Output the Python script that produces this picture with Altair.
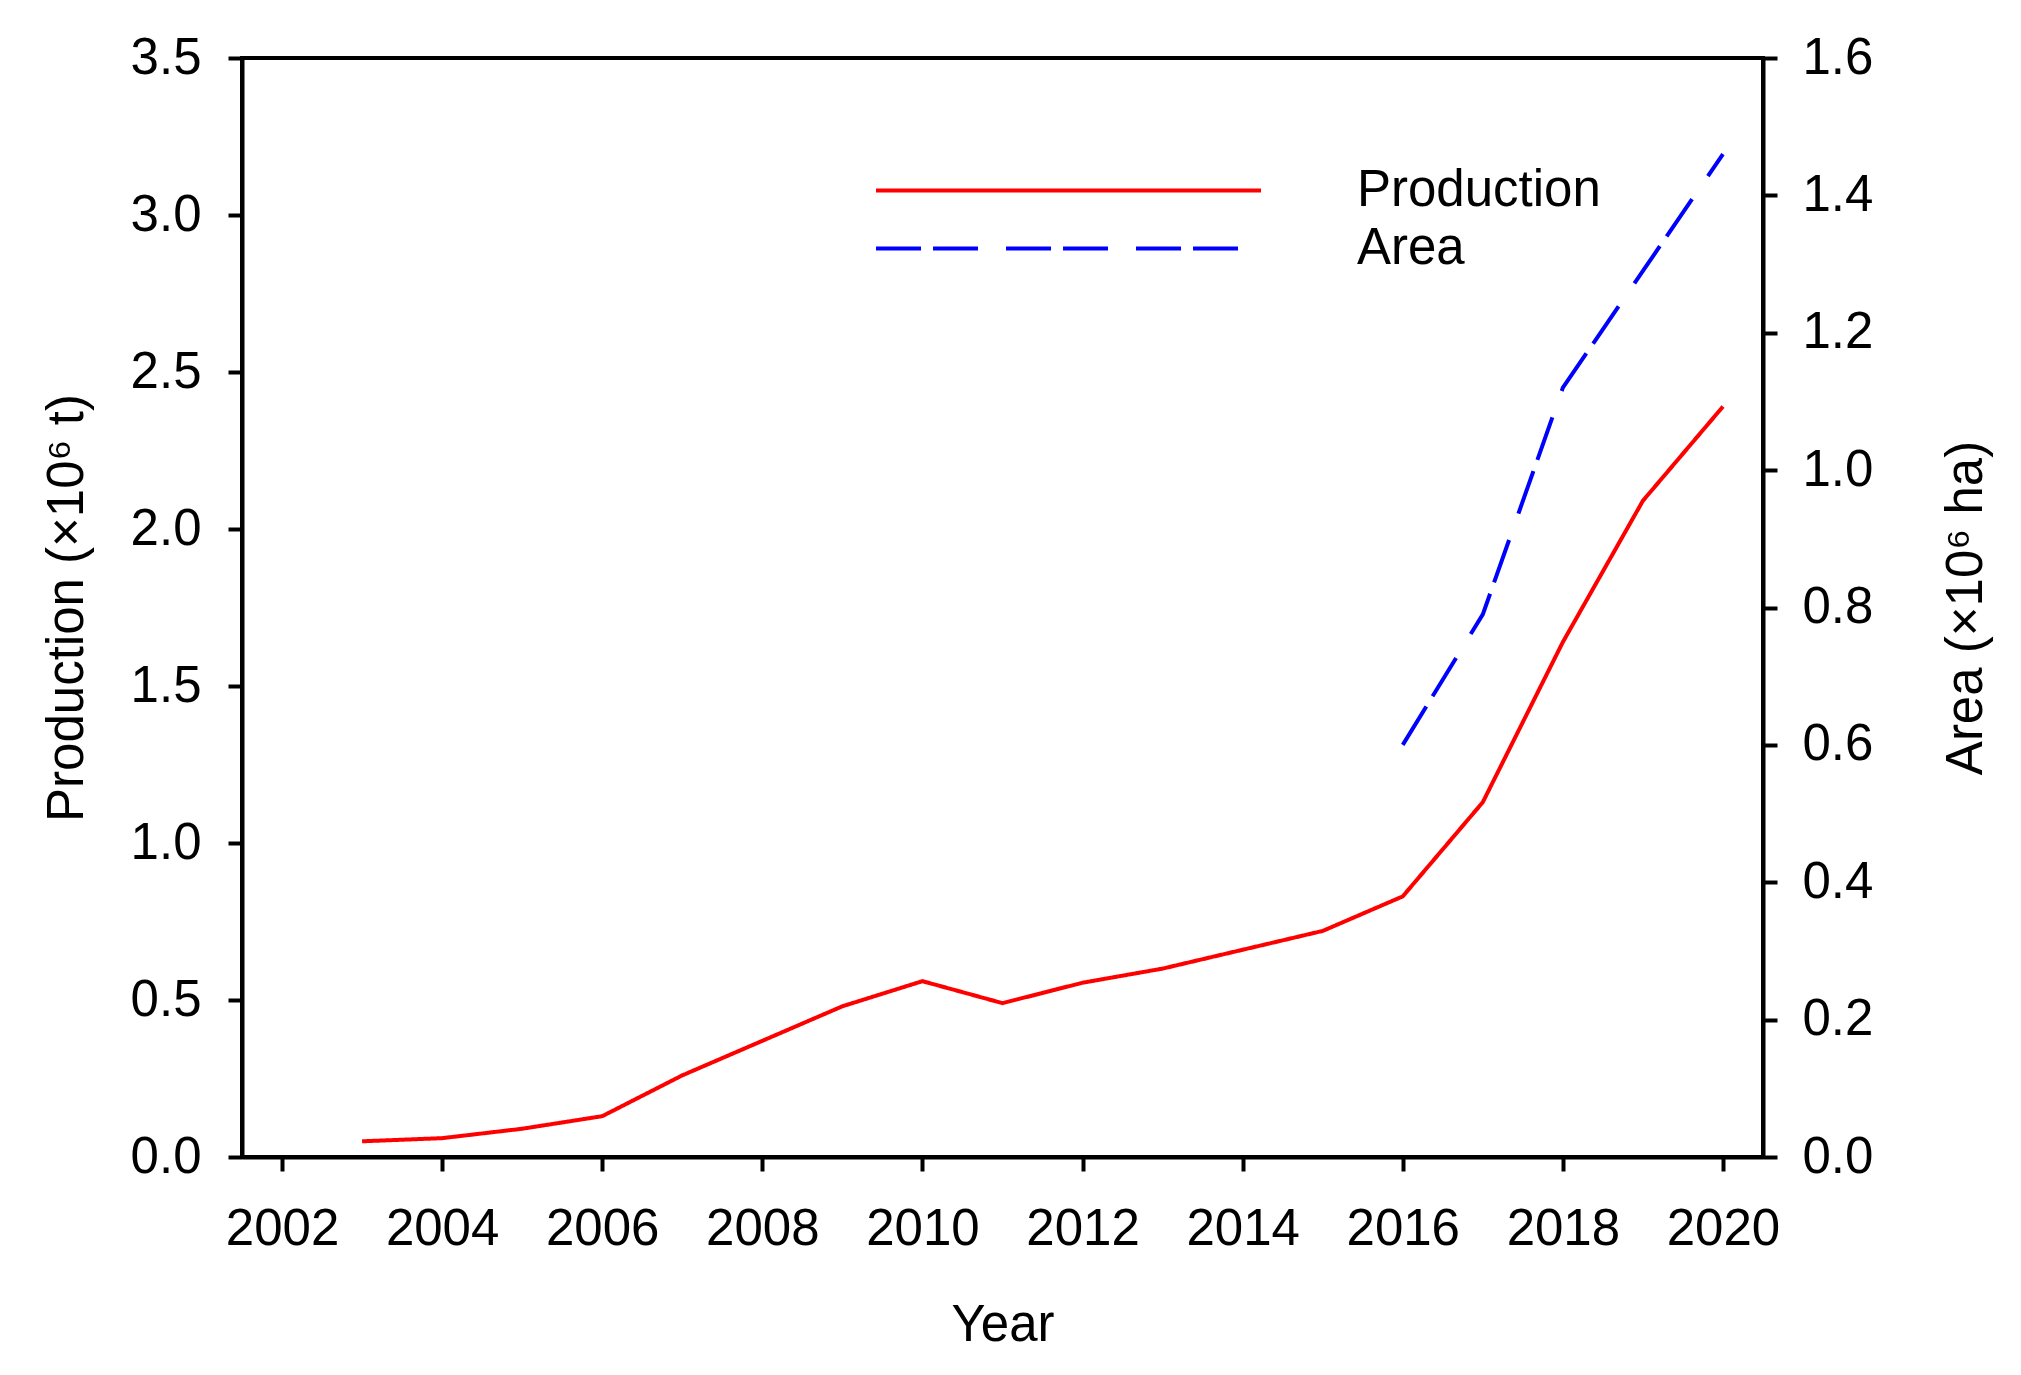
import altair as alt
import pandas as pd

# ---- data ----
prod_years = list(range(2003, 2021))
production = [0.05, 0.06, 0.09, 0.13, 0.26, 0.37, 0.48, 0.56, 0.49, 0.555,
              0.60, 0.66, 0.72, 0.83, 1.13, 1.64, 2.09, 2.39]
area_years = [2016, 2017, 2018, 2019, 2020]
area = [0.60, 0.79, 1.12, 1.29, 1.46]

series_names = ["Production", "Area"]
series_colors = ["#FF0000", "#0000FF"]
series_dashes = [[1, 0], [45, 12, 45, 28]]

x_ticks = list(range(2002, 2021, 2))
left_ticks = [0.0, 0.5, 1.0, 1.5, 2.0, 2.5, 3.0, 3.5]
right_ticks = [0.0, 0.2, 0.4, 0.6, 0.8, 1.0, 1.2, 1.4, 1.6]

prod_df = pd.DataFrame({"year": prod_years, "value": production, "series": "Production"})
area_df = pd.DataFrame({"year": area_years, "value": area, "series": "Area"})

FONT = "Liberation Sans, Arial, sans-serif"
FS = 51
W, H = 1521, 1099

legend = alt.Legend(
    title=None, orient="none", legendX=801, legendY=107, direction="vertical",
    symbolType="M-10,0H10", symbolSize=1482, symbolStrokeWidth=4,
    labelFontSize=FS, labelFont=FONT, labelColor="black", labelLimit=600,
    labelOffset=263, rowPadding=6, padding=0,
)

color = alt.Color("series:N", scale=alt.Scale(domain=series_names, range=series_colors), legend=legend)
dash = alt.StrokeDash("series:N", scale=alt.Scale(domain=series_names, range=series_dashes), legend=legend)

x_enc = alt.X(
    "year:Q",
    scale=alt.Scale(domain=[2001.5, 2020.5], nice=False, zero=False),
    axis=alt.Axis(values=x_ticks, format="d", title="Year", labelPadding=33,
                  labelOverlap=False, titleY=168, titleBaseline="middle"),
)

prod_layer = alt.Chart(prod_df).mark_line(strokeWidth=4).encode(
    x=x_enc,
    y=alt.Y("value:Q", scale=alt.Scale(domain=[0, 3.5], nice=False),
            axis=alt.Axis(orient="left", values=left_ticks, format=".1f",
                          title="Production (×10⁶ t)", labelPadding=27,
                          titleX=-175, titleY=H / 2, titleAngle=-90,
                          titleAlign="center", titleBaseline="middle")),
    color=color,
    strokeDash=dash,
)

area_layer = alt.Chart(area_df).mark_line(strokeWidth=4).encode(
    x=x_enc,
    y=alt.Y("value:Q", scale=alt.Scale(domain=[0, 1.6], nice=False),
            axis=alt.Axis(orient="right", values=right_ticks, format=".1f",
                          title="Area (×10⁶ ha)", labelPadding=25,
                          titleX=203, titleY=H / 2, titleAngle=-90,
                          titleAlign="center", titleBaseline="middle")),
    color=color,
    strokeDash=dash,
)

chart = alt.layer(prod_layer, area_layer).resolve_scale(
    y="independent"
).properties(
    width=W, height=H,
    autosize=alt.AutoSizeParams(type="none"),
    padding={"left": 234, "top": 50, "right": 245, "bottom": 205},
).configure_view(
    stroke="black", strokeWidth=4
).configure_axis(
    grid=False, domainColor="black", domainWidth=4, tickColor="black",
    tickWidth=4, tickSize=14, labelFontSize=FS, titleFontSize=FS,
    labelFont=FONT, titleFont=FONT, labelColor="black", titleColor="black",
    titleFontWeight="normal",
)

chart.save("out.html", embed_options={"renderer": "svg", "actions": False})
